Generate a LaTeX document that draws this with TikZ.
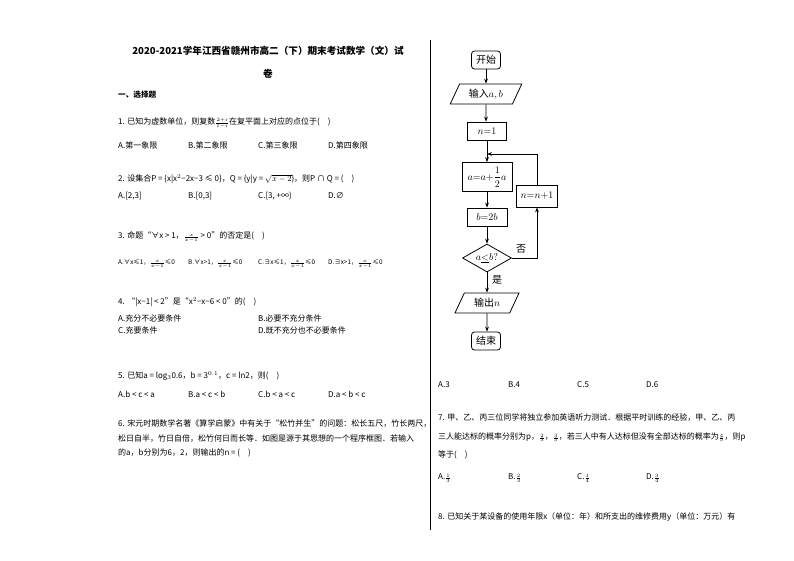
\documentclass[tikz,border=0pt]{standalone}
\usepackage{fontspec}
\setmainfont{Noto Sans CJK SC}
\usetikzlibrary{shapes.geometric,arrows.meta}
\newcommand{\sfr}[2]{$\scriptscriptstyle\frac{#1}{#2}$}
\begin{document}
\begin{tikzpicture}[x=1pt,y=-1pt,
  t/.style={anchor=west,inner sep=0pt,font=\fontsize{8}{9}\selectfont},
  ts/.style={t,font=\fontsize{6.4}{7}\selectfont},
  fb/.style={draw,thick,minimum height=18pt,inner sep=2pt,font=\fontsize{10}{11}\selectfont},
  io/.style={fb,trapezium,trapezium left angle=65,trapezium right angle=115,minimum height=20pt},
  ar/.style={thick,-{Stealth[length=5pt]}}]
\useasboundingbox (0,0) rectangle (794,560);
\fill[white] (0,0) rectangle (794,560);
\draw (430,40) -- (430,530);
\node[anchor=center,font=\fontsize{9.6}{10}\selectfont\bfseries] (title) at (268,51) {2020-2021学年江西省赣州市高二（下）期末考试数学（文）试};
\node[font=\fontsize{9.6}{10}\selectfont\bfseries] (title2) at (268,74) {卷};
\node[t,font=\fontsize{7.6}{8}\selectfont\bfseries] (sec) at (118,95) {一、选择题};
\node[t] (q1) at (118,123) {1. 已知为虚数单位，则复数\sfr{2+i}{1-i}在复平面上对应的点位于(\quad )};
\node[t] (q1a) at (118,145) {A.第一象限};
\node[t] (q1b) at (188,145) {B.第二象限};
\node[t] (q1c) at (258,145) {C.第三象限};
\node[t] (q1d) at (328,145) {D.第四象限};
\node[t] (q2) at (118,179) {2. 设集合P = \{x|x$^2$−2x−3 ≤ 0\}，Q = \{y|y = $\sqrt{x-2}$\}，则P ∩ Q = (\quad )};
\node[t] (q2a) at (118,196) {A.[2,3]};
\node[t] (q2b) at (188,196) {B.[0,3]};
\node[t] (q2c) at (258,196) {C.[3, +∞)};
\node[t] (q2d) at (328,196) {D.∅};
\node[t] (q3) at (118,237) {3. 命题“∀x > 1，\sfr{x}{x-1} > 0”的否定是(\quad )};
\node[ts] (q3a) at (118,264) {A.∀x≤1，\sfr{x}{x-1}≤0};
\node[ts] (q3b) at (188,264) {B.∀x>1，\sfr{x}{x-1}≤0};
\node[ts] (q3c) at (258,264) {C.∃x≤1，\sfr{x}{x-1}≤0};
\node[ts] (q3d) at (328,264) {D.∃x>1，\sfr{x}{x-1}≤0};
\node[t] (q4) at (118,302) {4. “|x−1| < 2”是“x$^2$−x−6 < 0”的(\quad )};
\node[t] (q4a) at (118,318) {A.充分不必要条件};
\node[t] (q4b) at (258,318) {B.必要不充分条件};
\node[t] (q4c) at (118,330) {C.充要条件};
\node[t] (q4d) at (258,330) {D.既不充分也不必要条件};
\node[t] (q5) at (118,376) {5. 已知a = log$_3$0.6，b = 3$^{0.1}$，c = ln2，则(\quad )};
\node[t] (q5a) at (118,394) {A.b < c < a};
\node[t] (q5b) at (188,394) {B.a < c < b};
\node[t] (q5c) at (258,394) {C.b < a < c};
\node[t] (q5d) at (328,394) {D.a < b < c};
\node[t] (q6) at (118,424) {6. 宋元时期数学名著《算学启蒙》中有关于“松竹并生”的问题：松长五尺，竹长两尺，};
\node[t] (q6b) at (118,439) {松日自半，竹日自倍，松竹何日而长等．如图是源于其思想的一个程序框图．若输入};
\node[t] (q6c) at (118,453) {的a，b分别为6，2，则输出的n = (\quad )};
\node[t] (r6a) at (438,385) {A.3};
\node[t] (r6b) at (508,385) {B.4};
\node[t] (r6c) at (577,385) {C.5};
\node[t] (r6d) at (646,385) {D.6};
\node[t] (q7) at (438,418) {7. 甲、乙、丙三位同学将独立参加英语听力测试．根据平时训练的经验，甲、乙、丙};
\node[t] (q7b) at (438,437) {三人能达标的概率分别为p，\sfr{2}{3}，\sfr{3}{5}，若三人中有人达标但没有全部达标的概率为\sfr{4}{5}，则p};
\node[t] (q7c) at (438,455) {等于(\quad )};
\node[t] (q7a1) at (438,478) {A.\sfr{1}{3}};
\node[t] (q7a2) at (508,478) {B.\sfr{2}{3}};
\node[t] (q7a3) at (577,478) {C.\sfr{1}{4}};
\node[t] (q7a4) at (646,478) {D.\sfr{3}{4}};
\node[t] (q8) at (438,517) {8. 已知关于某设备的使用年限x（单位：年）和所支出的维修费用y（单位：万元）有};
% flowchart
\node[fb,rounded corners=3pt,minimum width=29pt] (start) at (486,60) {开始};
\node[io,minimum width=48pt] (in) at (486,94) {输入$a,b$};
\node[fb,minimum width=39pt] (n1) at (487,131) {$n{=}1$};
\coordinate (m) at (487,154);
\node[fb,minimum width=50pt,minimum height=29pt] (aa) at (487,177) {$a{=}a{+}\displaystyle\frac12a$};
\node[fb,minimum width=40pt] (bb) at (487,217) {$b{=}2b$};
\node[fb,diamond,aspect=1.8,inner sep=0pt,minimum width=49pt,minimum height=28pt] (dd) at (487,258) {$a\underline{<}b?$};
\node[fb,minimum width=41pt,minimum height=22pt] (nn) at (537,196) {$n{=}n{+}1$};
\node[io,minimum width=45pt] (out) at (487,303) {输出$n$};
\node[fb,rounded corners=3pt,minimum width=29pt] (end) at (486,341) {结束};
\node[font=\fontsize{10}{11}\selectfont] (no) at (521,249) {否};
\node[font=\fontsize{10}{11}\selectfont] (yes) at (497,280) {是};
\draw[ar] (start) -- (in);
\draw[ar] (in) -- (in |- n1.north);
\draw[thick] (n1) -- (m);
\draw[ar] (m) -- (aa);
\draw[ar] (aa) -- (bb);
\draw[ar] (bb) -- (dd);
\draw[ar] (dd.east) -| (nn.south);
\draw[ar] (nn.north) |- (m);
\draw[ar] (dd) -- (dd |- out.north);
\draw[ar] (out) -- (out |- end.north);
\end{tikzpicture}
\end{document}
